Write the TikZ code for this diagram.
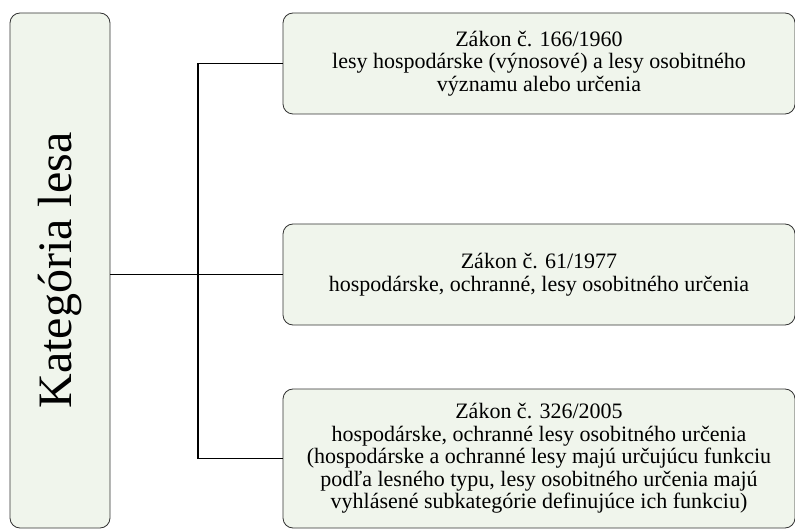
\documentclass[tikz,border=0pt]{standalone}
\usepackage{fontspec}
\setmainfont{Liberation Serif}
\definecolor{boxfill}{HTML}{F0F5EC}
\begin{document}
\begin{tikzpicture}[x=1pt,y=1pt,
	box/.style={draw=black!80,fill=boxfill,rounded corners=10pt,line width=0.8pt,align=center,inner sep=0pt,
		font=\fontsize{22}{22.5}\selectfont},
	law/.style={box,minimum width=512pt}]
	\useasboundingbox (0,0) rectangle (795,-529);

	\node[box,minimum width=515pt,minimum height=100pt,rotate=90,font=\fontsize{48}{48}\selectfont]
		at (60,-270.5) (kat) {Kategória lesa};

	\node[law,minimum height=101pt] at (539,-63.5) (z1960)
		{Zákon č. 166/1960\\lesy hospodárske (výnosové) a lesy osobitného\\významu alebo určenia};
	\node[law,minimum height=101pt] at (539,-274.5) (z1977)
		{Zákon č. 61/1977\\hospodárske, ochranné, lesy osobitného určenia};
	\node[law,minimum height=139pt] at (539,-458.5) (z2005)
		{Zákon č. 326/2005\\hospodárske, ochranné lesy osobitného určenia\\(hospodárske a ochranné lesy majú určujúcu funkciu\\podľa lesného typu, lesy osobitného určenia majú\\vyhlásené subkategórie definujúce ich funkciu)};

	% spojnice
	\coordinate (bus) at (198,0);
	\draw[line width=1.2pt] (z1960.west) -| (bus |- z2005.west) -- (z2005.west);
	\draw[line width=1.2pt] (kat.south |- z1977.west) -- (z1977.west);
\end{tikzpicture}
\end{document}
